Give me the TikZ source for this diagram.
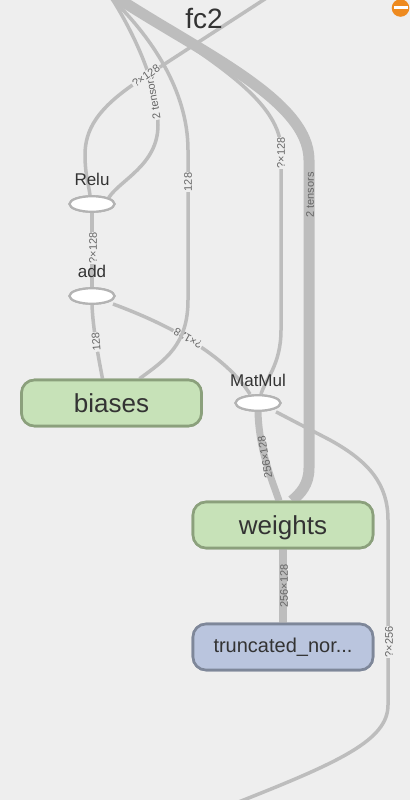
\documentclass[tikz,border=0pt]{standalone}
\usepackage{fontspec}
\setmainfont{Liberation Sans}
\usetikzlibrary{shapes.geometric}
\definecolor{bg}{HTML}{EEEEEE}
\definecolor{edgecol}{HTML}{BDBDBD}
\definecolor{opline}{HTML}{B3B3B3}
\definecolor{grfill}{HTML}{C7E2B8}
\definecolor{grline}{HTML}{8BA07C}
\definecolor{blfill}{HTML}{BAC5DE}
\definecolor{blline}{HTML}{7E8799}
\definecolor{txt}{HTML}{333333}
\definecolor{lbl}{HTML}{666666}
\definecolor{orng}{HTML}{EE8A1F}
\begin{document}
\begin{tikzpicture}[x=1pt,y=-1pt,
  opnode/.style={ellipse, draw=opline, line width=2.2pt, fill=white, minimum width=45pt, minimum height=15.5pt, inner sep=0pt},
  boxbase/.style={rectangle, rounded corners=13pt, line width=2.6pt, minimum width=180pt, minimum height=46pt, text=txt, inner sep=0pt},
  grnbox/.style={boxbase, fill=grfill, draw=grline, font=\fontsize{26}{28}\selectfont, text height=18pt, text depth=0pt},
  bluebox/.style={boxbase, fill=blfill, draw=blline, font=\fontsize{20}{22}\selectfont},
  oplabel/.style={text=txt, font=\fontsize{17}{19}\selectfont, anchor=base, inner sep=0pt},
  elabel/.style={text=lbl, font=\fontsize{11}{12}\selectfont, fill=bg, inner sep=0.6pt},
  tlabel/.style={text=lbl, font=\fontsize{11}{12}\selectfont, inner sep=0.6pt},
  edg/.style={draw=edgecol, line width=3.5pt},
]
\useasboundingbox (0,0) rectangle (410,800);
\fill[bg] (0,0) rectangle (410,800);
\clip (0,0) rectangle (410,800);

% nodes (placed first so edges can refer to them; drawn again on top)
\path
  (92,204) node[opnode] (relu) {}
  (92,296) node[opnode] (add) {}
  (258,403) node[opnode] (matmul) {}
  (111.5,403) node[grnbox] (biases) {biases}
  (283,525) node[grnbox] (weights) {weights}
  (283,647) node[bluebox] (trunc) {truncated\_nor...};

% free ends
\coordinate (inA) at (116,-3);
\coordinate (inB) at (118,-3);
\coordinate (inC) at (110,-3);
\coordinate (inD) at (111,-3);
\coordinate (outE) at (268,-3);
\coordinate (outF) at (236,803);

% edges
\draw[edg, line width=11pt] (inA) .. controls (200,52) and (309,100) .. (309,160) -- (309,468) .. controls (309,485) and (300,494) .. ([xshift=9pt]weights.north);
\draw[edg] (inB) .. controls (192,50) and (281,95) .. (281,150) -- (281,330) .. controls (281,365) and (265,380) .. ([xshift=3pt]matmul.north);
\draw[edg] (inD) .. controls (135,35) and (158,85) .. (158,125) .. controls (158,165) and (120,180) .. (relu.north east);
\draw[edg] (outE) -- (140,80) .. controls (97,108) and (85,130) .. (85,155) .. controls (85,175) and (89,186) .. ([xshift=-2pt]relu.north);
\draw[edg] (relu.south) -- (add.north);
\draw[edg] (add.south) .. controls (93,330) and (99,360) .. ([xshift=-9pt]biases.north);
\draw[edg] (113,304) .. controls (170,325) and (225,355) .. ([xshift=-8pt]matmul.north);
\draw[edg] ([xshift=18pt]matmul.south) -- (330,440) .. controls (370,462) and (388,485) .. (388,520) -- (388,705) .. controls (388,740) and (340,762) .. (outF);
\draw[edg, line width=7pt] (matmul.south) .. controls (259,450) and (272,480) .. ([xshift=-4pt]weights.north);
\draw[edg, line width=8pt] (weights.south) -- (trunc.north);

% edge labels
\node[tlabel, rotate=90] (l1) at (310,195) {2 tensors};
\node[elabel, rotate=90] (l2) at (281,153) {?×128};
\node[elabel, rotate=100] (l3) at (153,97) {2 tensors};
\node[elabel, rotate=35] (l4) at (146,76) {?×128};
\node[elabel, rotate=90] (l5) at (93,248) {?×128};
\node[elabel, rotate=95] (l6) at (96,342) {128};
\node[elabel, rotate=150] (l7) at (188,338) {?×128};
\node[elabel, rotate=90] (l8) at (389,642) {?×256};
\node[tlabel, rotate=100] (l9) at (265,457) {256×128};
\node[tlabel, rotate=90] (l10) at (284,586) {256×128};

% line to biases drawn over the add->MatMul label
\draw[edg] (inC) .. controls (150,35) and (188,90) .. (188,150) -- (188,300) .. controls (188,345) and (165,360) .. ([xshift=28pt]biases.north);
\node[elabel, rotate=90] (l11) at (188,182) {128};

% nodes on top
\path
  (92,204) node[opnode] {}
  (92,296) node[opnode] {}
  (258,403) node[opnode] {}
  (111.5,403) node[grnbox] {biases}
  (283,525) node[grnbox] {weights}
  (283,647) node[bluebox] {truncated\_nor...};

\node[oplabel] (relulbl) at (92,185) {Relu};
\node[oplabel] (addlbl) at (92,277) {add};
\node[oplabel] (matmullbl) at (258,386) {MatMul};

\node[text=txt, font=\fontsize{28}{30}\selectfont, anchor=base, inner sep=0pt] (fc2) at (204,29) {fc2};
\node[circle, fill=orng, minimum size=17.6pt, inner sep=0pt] (coll) at (400.5,8) {};
\node[rectangle, fill=white, minimum width=14pt, minimum height=3.6pt, inner sep=0pt] (collbar) at (400.5,7.5) {};
\end{tikzpicture}
\end{document}
